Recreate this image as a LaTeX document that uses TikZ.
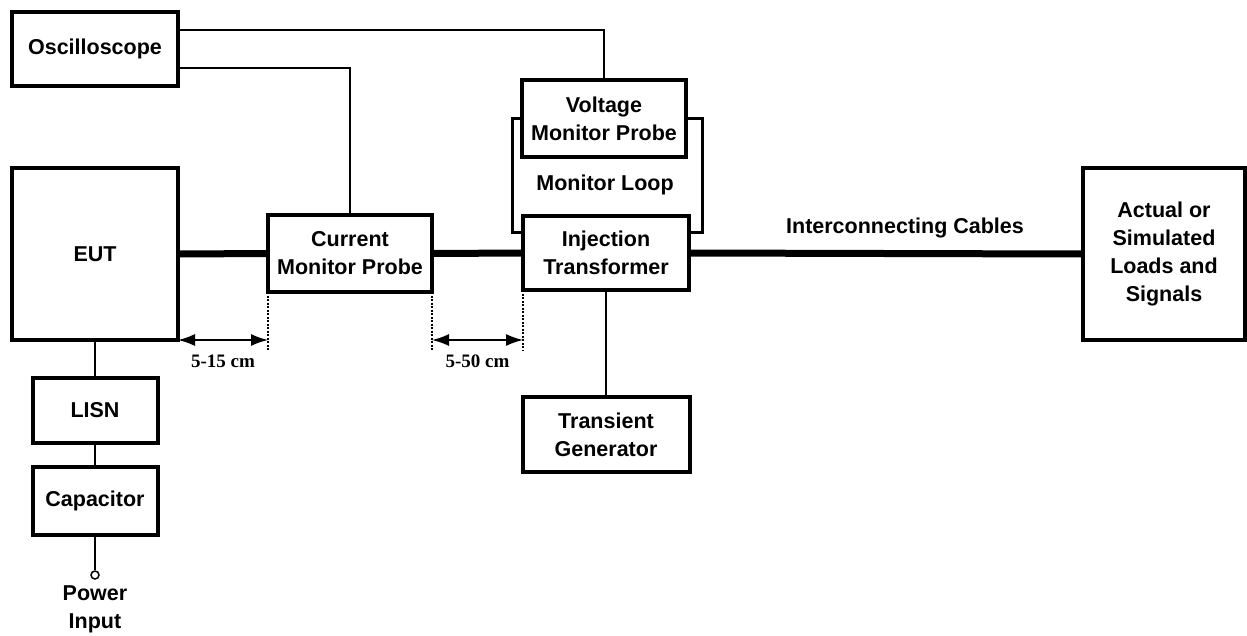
\documentclass[tikz,border=0pt]{standalone}
\usepackage{fontspec}
\setmainfont{Liberation Sans}
\newfontfamily\dimfont{Liberation Serif}
\usetikzlibrary{arrows.meta}
\newcommand\boxfont{\fontsize{21.5}{28}\selectfont\bfseries}
\newcommand\dimlabelfont{\dimfont\fontsize{19}{22}\selectfont\bfseries}
\begin{document}
\begin{tikzpicture}[x=1pt,y=-1pt,
  box/.style={draw, line width=4pt, line join=miter, align=center, font=\boxfont, inner sep=0pt, outer sep=0pt},
  wire/.style={line width=2.4pt, line join=miter},
  loop/.style={line width=3pt, line join=miter},
  cable/.style={line width=7pt},
  guide/.style={dash pattern=on 2pt off 1.5pt, line width=1.2pt},
  dimarrow/.style={line width=1.5pt, {Latex[length=17pt,width=12pt]}-{Latex[length=17pt,width=12pt]}},
  txt/.style={font=\boxfont, align=center, inner sep=0pt},
  dimtxt/.style={font=\dimlabelfont, inner sep=0pt}]
\useasboundingbox (0,0) rectangle (1247,635);

% boxes
\node[box, minimum width=166, minimum height=74] (osc) at (95,49) {Oscilloscope};
\node[box, minimum width=166, minimum height=172] (eut) at (95,254) {EUT};
\node[box, minimum width=164, minimum height=77] (cmp) at (350,253.5) {Current\\Monitor Probe};
\node[box, minimum width=164, minimum height=77] (vmp) at (604,118.5) {Voltage\\Monitor Probe};
\node[box, minimum width=166, minimum height=74] (it) at (606,253) {Injection\\Transformer};
\node[box, minimum width=167, minimum height=75] (tg) at (606,434.5) {Transient\\Generator};
\node[box, minimum width=162, minimum height=172] (act) at (1164,254) {Actual or\\Simulated\\Loads and\\Signals};
\node[box, minimum width=125, minimum height=65] (lisn) at (95,410.5) {LISN};
\node[box, minimum width=125, minimum height=68] (cap) at (95,501) {Capacitor};
\node[draw, circle, line width=1.5pt, minimum size=8pt, inner sep=0pt] (pin) at (95,575) {};
\node[txt] (pwr) at (95,609) {Power\\Input};

% labels
\node[txt] (ml) at (605,185) {Monitor Loop};
\node[txt] (ic) at (905,228) {Interconnecting Cables};

% oscilloscope connections
\draw[wire] ([yshift=19pt]osc.east) -| (vmp.north);
\draw[wire] ([yshift=-19pt]osc.east) -| (cmp.north);

% monitor loop
\draw[loop] (vmp.west) -- ++(-10,0) |- ([yshift=21pt]it.west);
\draw[loop] (vmp.east) -- ++(16,0) |- ([yshift=21pt]it.east);

% cables
\draw[cable] (eut.east) -- (cmp.west);
\draw[cable] (cmp.east) -- (it.west);
\draw[cable] (it.east) -- (act.west);

% other wires
\draw[wire] (it.south) -- (tg.north);
\draw[wire] (eut.south) -- (lisn.north);
\draw[wire] (lisn.south) -- (cap.north);
\draw[wire] (cap.south) -- (pin.north);

% dimension guides
\coordinate (g1) at (268,350);
\coordinate (g2) at (432,350);
\coordinate (g3) at (523,350);
\draw[guide] (cmp.south west) -- (g1);
\draw[guide] (cmp.south east) -- (g2);
\draw[guide] (it.south west) -- (g3);
\coordinate (a1) at (eut.south east);
\draw[dimarrow] (a1) -- (cmp.south west |- a1) node[midway, below=14pt, dimtxt] (d1) {5-15 cm};
\draw[dimarrow] (cmp.south east |- a1) -- (it.south west |- a1) node[midway, below=14pt, dimtxt] (d2) {5-50 cm};
\end{tikzpicture}
\end{document}
